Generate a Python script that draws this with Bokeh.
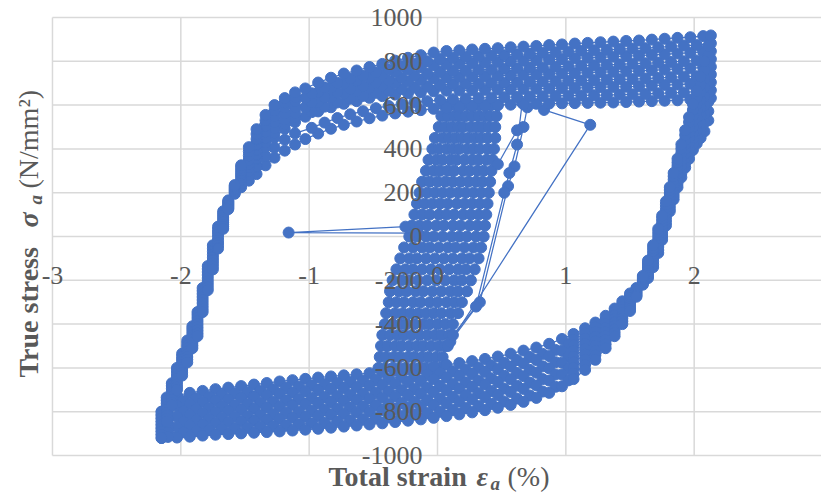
import math
from bokeh.plotting import figure
from bokeh.models import Range1d, FixedTicker, Label, CustomJSTickFormatter
from bokeh.embed import file_html
from bokeh.resources import INLINE

BLUE = "#4472C4"
GRID = "#D9D9D9"
TXT = "#595959"

X_TICKS = [-3, -2, -1, 0, 1, 2, 3]
Y_TICKS = [-1000, -800, -600, -400, -200, 0, 200, 400, 600, 800, 1000]

# ---- large strain cycles, rising branch (compression tip -> tension tip)
UX = [-2.15, -2.11, -2.07, -2.03, -1.99, -1.95, -1.91, -1.87, -1.83, -1.79, -1.75, -1.71,
      -1.67, -1.63, -1.58, -1.53, -1.47, -1.41, -1.34, -1.27, -1.19, -1.11, -1.03, -0.93,
      -0.83, -0.73, -0.63, -0.53, -0.43, -0.33, -0.23, -0.13, -0.03, 0.07, 0.17, 0.27,
      0.37, 0.47, 0.57, 0.67, 0.77, 0.87, 0.97, 1.07, 1.17, 1.27, 1.37, 1.47, 1.57,
      1.67, 1.77, 1.87, 1.97, 2.07, 2.13]
UX_B = [-2.15, -2.11, -2.07, -2.03, -1.99, -1.95, -1.91, -1.87, -1.83, -1.79, -1.75, -1.71,
        -1.67, -1.63, -1.58, -1.53, -1.47, -1.41, -1.34, -1.27, -1.19, -1.11, -0.98, -0.88,
        -0.78, -0.68, -0.58, -0.48, -0.38, -0.28, -0.18, -0.08, 0.02, 0.12, 0.22, 0.32,
        0.42, 0.52, 0.62, 0.72, 0.82, 0.92, 1.02, 1.12, 1.22, 1.32, 1.42, 1.52, 1.62,
        1.72, 1.82, 1.92, 2.02, 2.12, 2.13]
C1_UP = [-800, -735, -670, -600, -535, -475, -410, -345, -235, -135, -40, 45, 115, 165, 195, 225, 255, 285, 325, 360, 392, 420, 445, 470, 492, 510, 525, 540, 552, 562, 570, 577, 583, 588, 592, 595, 598, 600, 602, 604, 606, 607, 608, 609, 610, 611, 612, 614, 616, 618, 620, 622, 625, 628, 632]
C2_UP = [-815, -748, -682, -612, -548, -488, -422, -358, -248, -148, -54, 32, 105, 160, 200, 242, 278, 320, 366, 406, 442, 471, 496, 520, 541, 558, 572, 586, 596, 605, 612, 618, 623, 627, 630, 632, 634, 636, 637, 639, 640, 642, 643, 644, 645, 646, 648, 649, 651, 654, 656, 658, 661, 664, 668]
C3_UP = [-830, -762, -695, -625, -560, -500, -435, -372, -262, -162, -68, 20, 95, 155, 205, 258, 300, 354, 408, 452, 492, 522, 547, 571, 590, 606, 618, 633, 641, 648, 654, 658, 663, 666, 667, 668, 670, 671, 672, 674, 675, 676, 678, 678, 680, 682, 683, 684, 686, 689, 692, 694, 697, 700, 704]
C4_UP = [-845, -776, -708, -638, -572, -512, -448, -386, -276, -176, -82, 8, 85, 150, 210, 269, 315, 374, 429, 474, 514, 544, 568, 593, 612, 629, 642, 656, 666, 674, 681, 686, 692, 696, 698, 699, 701, 702, 704, 706, 708, 709, 711, 712, 714, 716, 718, 719, 721, 724, 727, 730, 732, 736, 740]
C5_UP = [-860, -790, -720, -650, -585, -525, -460, -400, -290, -190, -95, -5, 75, 145, 215, 280, 330, 395, 450, 495, 535, 565, 590, 615, 635, 652, 665, 680, 690, 700, 708, 715, 722, 726, 728, 730, 732, 734, 736, 738, 740, 742, 744, 746, 748, 750, 752, 754, 756, 759, 762, 765, 768, 772, 775]
C6_UP = [-875, -804, -732, -662, -598, -538, -472, -414, -304, -204, -108, -18, 65, 140, 220, 291, 350, 420, 478, 522, 562, 592, 612, 637, 658, 675, 688, 704, 714, 726, 735, 744, 752, 756, 758, 761, 763, 766, 768, 770, 772, 775, 777, 780, 782, 784, 786, 789, 791, 794, 797, 800, 804, 808, 810]
C7_UP = [-890, -818, -745, -675, -610, -550, -485, -428, -318, -218, -122, -30, 55, 135, 225, 302, 369, 445, 505, 550, 590, 618, 633, 659, 680, 698, 712, 727, 739, 752, 762, 772, 781, 786, 789, 792, 794, 797, 800, 802, 805, 808, 810, 814, 816, 818, 821, 824, 826, 829, 832, 836, 839, 844, 846]
C8_UP = [-905, -832, -758, -688, -622, -562, -498, -442, -332, -232, -136, -42, 45, 130, 230, 314, 388, 468, 530, 575, 611, 638, 654, 681, 702, 721, 735, 750, 764, 778, 789, 800, 810, 816, 820, 823, 826, 828, 832, 834, 838, 841, 844, 848, 850, 852, 856, 858, 860, 864, 868, 872, 874, 880, 882]
C9_UP = [-920, -845, -770, -700, -635, -575, -510, -455, -345, -245, -150, -55, 35, 125, 235, 325, 408, 490, 555, 600, 632, 658, 676, 703, 725, 744, 758, 774, 788, 803, 816, 828, 840, 847, 850, 854, 857, 860, 864, 867, 870, 874, 877, 881, 884, 887, 890, 893, 895, 899, 903, 907, 910, 915, 918]

# ---- descending branch (tension tip -> compression tip)
DX = [2.11, 2.08, 2.05, 2.02, 1.99, 1.96, 1.93, 1.90, 1.87, 1.84, 1.81, 1.78, 1.75, 1.72,
      1.68, 1.64, 1.60, 1.55, 1.50, 1.44, 1.38, 1.31, 1.23, 1.15, 1.06, 0.97, 0.87, 0.77,
      0.67, 0.57, 0.47, 0.37, 0.27, 0.17, 0.07, -0.03, -0.13, -0.23, -0.33, -0.43, -0.53,
      -0.63, -0.73, -0.83, -0.93, -1.03, -1.13, -1.23, -1.33, -1.43, -1.53, -1.63, -1.73,
      -1.83, -1.93, -2.03, -2.10, -2.15]
DX_B = [2.11, 2.08, 2.05, 2.02, 1.99, 1.96, 1.93, 1.90, 1.87, 1.84, 1.81, 1.78, 1.75, 1.72,
        1.68, 1.64, 1.60, 1.55, 1.50, 1.44, 1.38, 1.31, 1.23, 1.15, 1.06, 1.02, 0.92, 0.82,
        0.72, 0.62, 0.52, 0.42, 0.32, 0.22, 0.12, 0.02, -0.08, -0.18, -0.28, -0.38, -0.48,
        -0.58, -0.68, -0.78, -0.88, -0.98, -1.08, -1.18, -1.28, -1.38, -1.48, -1.58, -1.68,
        -1.78, -1.88, -1.98, -2.10, -2.15]
C1_DN = [530, 480, 450, 425, 395, 355, 315, 270, 225, 170, 115, 50, -15, -75, -140, -190, -220, -235, -260, -296, -329, -362, -393, -419, -445, -468, -490, -507, -521, -535, -548, -559, -569, -578, -586, -594, -601, -607, -613, -619, -624, -629, -634, -639, -644, -650, -656, -662, -669, -676, -683, -690, -697, -705, -714, -726, -755, -800]
C2_DN = [572, 520, 485, 455, 422, 378, 336, 289, 242, 185, 128, 64, -2, -62, -128, -180, -215, -240, -270, -309, -344, -380, -414, -442, -470, -495, -518, -536, -550, -564, -577, -588, -598, -607, -615, -623, -630, -636, -642, -648, -653, -658, -663, -668, -673, -679, -685, -690, -697, -704, -710, -716, -723, -730, -739, -750, -775, -815]
C3_DN = [615, 560, 520, 485, 448, 402, 358, 308, 258, 200, 142, 78, 12, -48, -115, -170, -210, -245, -280, -322, -360, -399, -436, -466, -496, -522, -546, -564, -580, -594, -606, -618, -628, -636, -644, -652, -660, -666, -672, -678, -682, -688, -692, -698, -702, -708, -714, -719, -725, -731, -737, -743, -749, -756, -764, -774, -795, -830]
C4_DN = [658, 600, 555, 515, 474, 426, 379, 326, 274, 215, 156, 92, 26, -34, -102, -160, -205, -250, -290, -335, -376, -418, -457, -490, -522, -549, -574, -593, -609, -623, -636, -647, -657, -666, -674, -682, -689, -695, -701, -707, -712, -717, -722, -727, -732, -737, -742, -748, -753, -758, -764, -770, -775, -782, -789, -798, -815, -845]
C5_DN = [700, 640, 590, 545, 500, 450, 400, 345, 290, 230, 170, 105, 40, -20, -90, -150, -200, -255, -300, -348, -392, -436, -478, -514, -548, -576, -602, -622, -638, -652, -665, -676, -686, -695, -703, -711, -718, -724, -730, -736, -741, -746, -751, -756, -761, -766, -771, -776, -781, -786, -791, -796, -801, -807, -814, -822, -835, -860]
C6_DN = [742, 680, 625, 575, 526, 474, 421, 364, 306, 245, 184, 118, 54, -6, -78, -140, -195, -260, -310, -361, -408, -454, -499, -538, -574, -603, -630, -651, -667, -681, -694, -705, -715, -724, -732, -740, -747, -753, -759, -765, -770, -775, -780, -785, -790, -795, -800, -804, -809, -814, -818, -822, -827, -832, -839, -846, -855, -875]
C7_DN = [785, 720, 660, 605, 552, 498, 442, 382, 322, 260, 198, 132, 68, 8, -65, -130, -190, -265, -320, -374, -424, -473, -520, -562, -600, -630, -658, -680, -696, -710, -724, -734, -744, -754, -762, -770, -776, -782, -788, -794, -800, -804, -810, -814, -820, -824, -828, -833, -837, -841, -845, -849, -853, -858, -864, -870, -875, -890]
C8_DN = [828, 760, 695, 635, 578, 522, 464, 401, 338, 275, 212, 146, 82, 22, -52, -120, -185, -270, -330, -387, -440, -492, -542, -586, -626, -657, -686, -708, -726, -740, -753, -764, -774, -783, -791, -799, -806, -812, -818, -824, -829, -834, -839, -844, -849, -853, -857, -862, -865, -868, -872, -876, -879, -884, -889, -894, -895, -905]
C9_DN = [870, 800, 730, 665, 605, 545, 485, 420, 355, 290, 225, 160, 95, 35, -40, -110, -180, -275, -340, -400, -455, -510, -563, -609, -651, -684, -714, -737, -755, -769, -782, -793, -803, -812, -820, -828, -835, -841, -847, -853, -858, -863, -868, -873, -878, -882, -886, -890, -893, -896, -899, -902, -905, -909, -914, -918, -915, -920]

# ---- early small cycles near zero strain (central column)
STEM_Y = [-600, -550, -500, -450, -400, -350, -300, -250, -200, -150, -100, -50, 0,
          50, 100, 150, 200, 250, 300, 350, 400, 450, 500, 550, 600]
STEM_X = [
    [-0.46, -0.45, -0.44, -0.43, -0.41, -0.40, -0.38, -0.37, -0.35, -0.32, -0.29, -0.26, -0.22, -0.20, -0.18, -0.16, -0.14, -0.12, -0.09, -0.07, -0.04, -0.02, 0.01, 0.03, 0.05],
    [-0.41, -0.40, -0.39, -0.37, -0.35, -0.33, -0.32, -0.30, -0.28, -0.25, -0.22, -0.19, -0.16, -0.14, -0.12, -0.10, -0.08, -0.06, -0.03, -0.01, 0.01, 0.04, 0.06, 0.08, 0.10],
    [-0.35, -0.34, -0.33, -0.31, -0.29, -0.27, -0.26, -0.24, -0.22, -0.19, -0.16, -0.12, -0.09, -0.08, -0.06, -0.04, -0.02, 0.00, 0.02, 0.04, 0.07, 0.09, 0.11, 0.13, 0.14],
    [-0.30, -0.29, -0.28, -0.26, -0.24, -0.21, -0.19, -0.17, -0.15, -0.12, -0.09, -0.06, -0.03, -0.01, 0.01, 0.02, 0.04, 0.06, 0.08, 0.10, 0.12, 0.14, 0.16, 0.17, 0.19],
    [-0.25, -0.23, -0.22, -0.20, -0.18, -0.15, -0.13, -0.11, -0.08, -0.05, -0.02, 0.01, 0.04, 0.05, 0.07, 0.08, 0.10, 0.12, 0.13, 0.15, 0.17, 0.19, 0.20, 0.22, 0.24],
    [-0.19, -0.18, -0.16, -0.14, -0.11, -0.09, -0.06, -0.04, -0.01, 0.02, 0.05, 0.08, 0.11, 0.12, 0.13, 0.15, 0.16, 0.18, 0.20, 0.21, 0.23, 0.24, 0.26, 0.27, 0.29],
    [-0.14, -0.12, -0.11, -0.08, -0.06, -0.03, 0.00, 0.03, 0.06, 0.09, 0.12, 0.14, 0.17, 0.18, 0.20, 0.21, 0.22, 0.24, 0.25, 0.27, 0.28, 0.29, 0.31, 0.32, 0.33],
    [-0.09, -0.07, -0.05, -0.02, 0.00, 0.03, 0.07, 0.10, 0.13, 0.16, 0.19, 0.21, 0.23, 0.25, 0.26, 0.27, 0.28, 0.30, 0.31, 0.32, 0.33, 0.34, 0.35, 0.37, 0.38],
    [-0.03, -0.01, 0.01, 0.03, 0.06, 0.10, 0.13, 0.16, 0.19, 0.22, 0.25, 0.28, 0.30, 0.31, 0.32, 0.33, 0.34, 0.35, 0.36, 0.38, 0.39, 0.39, 0.40, 0.41, 0.42],
    [0.02, 0.04, 0.06, 0.09, 0.12, 0.16, 0.19, 0.23, 0.26, 0.29, 0.32, 0.34, 0.36, 0.37, 0.38, 0.39, 0.40, 0.41, 0.42, 0.43, 0.44, 0.45, 0.45, 0.46, 0.47],
]

# ---- isolated excursions
STRAY_X = [
    [-0.25, -1.16, -0.15],
    [0.83, 1.19, 0.08],
    [0.70, 0.67, 0.60, 0.55, 0.33, 0.10],
    [0.66, 0.62, 0.56, 0.52, 0.30, 0.12],
    [0.47, 0.62],
]
STRAY_Y = [
    [45, 18, 15],
    [578, 510, -500],
    [590, 500, 320, 230, -300, -480],
    [610, 420, 290, 200, -320, -450],
    [330, 485],
]

# frame covers the whole canvas; the -3..3 / -1000..1000 plot area sits inside it
p = figure(width=821, height=498, x_range=Range1d(-3.405, 2.992), y_range=Range1d(-1196.3, 1077.6),
           output_backend="svg", toolbar_location=None,
           min_border_left=0, min_border_right=0, min_border_top=0, min_border_bottom=0)
p.background_fill_color = "white"
p.border_fill_color = "white"
p.outline_line_color = None
p.xgrid.visible = False
p.ygrid.visible = False

# grid lines of the plot area
p.segment(x0=X_TICKS, x1=X_TICKS, y0=[Y_TICKS[0]] * len(X_TICKS), y1=[Y_TICKS[-1]] * len(X_TICKS),
          line_color=GRID, line_width=1.5, level="underlay")
p.segment(x0=[X_TICKS[0]] * len(Y_TICKS), x1=[X_TICKS[-1]] * len(Y_TICKS), y0=Y_TICKS, y1=Y_TICKS,
          line_color=GRID, line_width=1.5, level="underlay")

fmt = CustomJSTickFormatter(code="return String(tick);")
p.xaxis.ticker = FixedTicker(ticks=X_TICKS)
p.yaxis.ticker = FixedTicker(ticks=Y_TICKS)
for ax in (p.xaxis, p.yaxis):
    ax.fixed_location = 0
    ax.formatter = fmt
    ax.axis_line_color = None
    ax.major_tick_line_color = None
    ax.minor_tick_line_color = None
    ax.major_tick_in = 0
    ax.major_tick_out = 0
    ax.major_label_text_font = "Liberation Serif"
    ax.major_label_text_font_size = "26px"
    ax.major_label_text_color = TXT
p.xaxis.major_label_standoff = 30
p.yaxis.major_label_standoff = 15

ups = [C1_UP, C2_UP, C3_UP, C4_UP, C5_UP, C6_UP, C7_UP, C8_UP, C9_UP]
dns = [C1_DN, C2_DN, C3_DN, C4_DN, C5_DN, C6_DN, C7_DN, C8_DN, C9_DN]
loop_x, loop_y = [], []
for i, (up, dn) in enumerate(zip(ups, dns)):
    ux = UX if i % 2 == 0 else UX_B
    dx = DX if i % 2 == 0 else DX_B
    assert len(up) == len(ux) and len(dn) == len(dx)
    loop_x += ux + dx
    loop_y += up + dn

series = []
for xs in STEM_X:
    assert len(xs) == len(STEM_Y)
    series.append((xs, STEM_Y))
for xs, ys in zip(STRAY_X, STRAY_Y):
    series.append((xs, ys))
series.append((loop_x, loop_y))

for xs, ys in series:
    p.line(xs, ys, line_color=BLUE, line_width=1.25)
    p.scatter(xs, ys, size=11, marker="circle", fill_color=BLUE, line_color=BLUE)


def lab(x, y, text, style="bold", size="28px", angle=0.0):
    p.add_layout(Label(x=x, y=y, x_units="screen", y_units="screen", text=text,
                       text_font="Liberation Serif", text_font_size=size,
                       text_font_style=style, text_color=TXT, text_align="left",
                       text_baseline="alphabetic", angle=angle))


# x title: Total strain εa (%)
lab(328, 22, "Total strain", "bold")
lab(476, 22, "ε", "bold italic")
lab(490, 15, "a", "bold italic", "19px")
lab(507, 22, "(%)", "normal")
# y title: True stress σa (N/mm²)
lab(28, 121, "True stress", "bold", angle=math.pi / 2)
lab(28, 271, "σ", "bold italic", angle=math.pi / 2)
lab(35, 294, "a", "bold italic", "19px", angle=math.pi / 2)
lab(28, 310, "(N/mm²)", "normal", angle=math.pi / 2)

open("out.html", "w").write(file_html(p, INLINE))
